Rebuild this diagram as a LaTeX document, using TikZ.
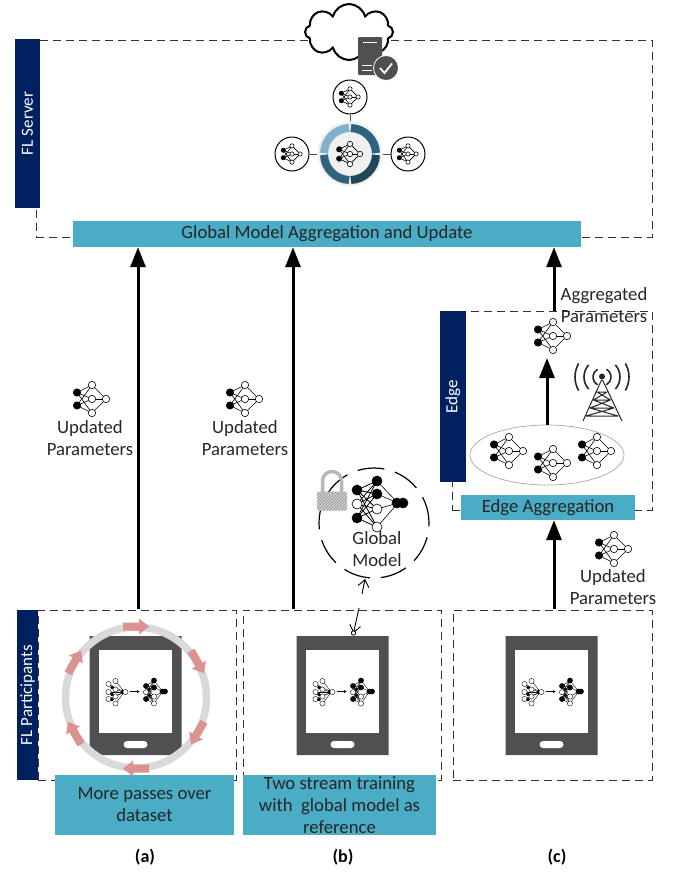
\documentclass[tikz,border=0pt]{standalone}
\usepackage{fontspec}
\setmainfont{Carlito}
\usetikzlibrary{arrows.meta,shapes.geometric,shapes.misc,shapes.symbols,patterns,calc}

\definecolor{navybar}{HTML}{002060}
\definecolor{tealbar}{HTML}{4BACC6}
\definecolor{phonegray}{HTML}{505050}
\definecolor{ringgray}{HTML}{D9D9D9}
\definecolor{flowpink}{HTML}{DC9290}

\tikzset{
  txt/.style={font=\fontsize{18.7}{22}\selectfont, align=center, text=black!85},
  navy/.style={fill=navybar, text=white, rotate=90, font=\fontsize{17}{20}\selectfont, inner sep=0pt},
  teal/.style={fill=tealbar, txt, inner sep=0pt},
  dashbox/.style={draw=black!80, line width=1pt, dash pattern=on 8pt off 5pt, inner sep=0pt},
  bigarrow/.style={line width=3pt, -{Triangle[length=20pt,width=15pt]}},
  neuron/.style={draw=black, line width=0.6pt},
  capt/.style={font=\fontsize{18}{20}\selectfont\bfseries, inner sep=0pt},
  % icon of a small network
  pics/nnet/.style={code={
    \foreach \a/\b in {-15/-6.5,-15/6.5} {
      \foreach \c in {-14,0,14} {\draw[line width=0.6pt] (\a,\b) -- (0,\c);}
    }
    \foreach \c in {-14,0,14} {\draw[line width=0.6pt] (0,\c) -- (14,0);}
    \foreach \a/\b/\f in {-15/-6.5/black,-15/6.5/black,0/-14/white,0/0/white,0/14/white,14/0/white} {
      \fill[\f, neuron] (\a,\b) circle[radius=3.7];
    }
  }},
  % phone with its two small networks
  pics/phone/.style={code={
    \node[chamfered rectangle, chamfered rectangle xsep=14pt, chamfered rectangle ysep=14pt, fill=phonegray,
      minimum width=92pt, minimum height=119pt, inner sep=0pt] (-body) at (0,0) {};
    \node[fill=white, minimum width=73pt, minimum height=83pt, inner sep=0pt] (-screen) at (0,-4.5) {};
    \node[fill=white, rounded corners=3.5pt, minimum width=24pt, minimum height=7pt, inner sep=0pt] (-button) at (0,49) {};
    % plain network
    \foreach \a/\b in {-27/-11.5,-27/-3.5,-27/3.5,-20/-14.5,-20/-6,-20/1,-20/8} {\draw[line width=0.4pt] (\a,\b) -- (-11,-3.5);}
    \foreach \a/\b/\f/\r in {-27/-11.5/white/2.6,-27/-3.5/white/2.6,-27/3.5/white/2.6,
        -20/-14.5/white/2.6,-20/-6/white/2.6,-20/1/white/2.6,-20/8/white/2.6,
        -23.5/-8/black/1.5,-23.5/-1/black/1.5,-23.5/4/black/1.5,-13/-3.5/black/1.8,-10/-3.5/white/2.6} {
      \fill[\f, draw=black, line width=0.4pt] (\a,\b) circle[radius=\r];
    }
    % trained network
    \foreach \a/\b in {18.5/-15,18.5/-8,18.5/1,18.5/8} {
      \draw[line width=0.4pt] (\a,\b) -- (27,-4);
      \foreach \c in {-9.5,-3.3,3.5} {\draw[line width=0.4pt] (\a,\b) -- (10.5,\c);}
    }
    \foreach \a/\b/\f/\r in {10.5/-9.5/black/2.6,10.5/-3.3/white/2.6,10.5/3.5/black/2.6,
        18.5/-15/black/2.6,18.5/-8/black/2.6,18.5/1/white/2.6,18.5/8/white/2.6,
        14/-6/black/1.5,14/0/black/1.5,27/-4/black/2.6,29.5/-4/black/2.6} {
      \fill[\f, draw=black, line width=0.4pt] (\a,\b) circle[radius=\r];
    }
    \coordinate (-from) at (-5.5,-4);
    \coordinate (-to) at (4.5,-4);
    \draw[line width=0.7pt, -{Latex[length=3pt,width=3pt]}] (-from) -- (-to);
  }},
  % one pink arrow on the ring
  pics/flowarrow/.style={code={
    \fill[flowpink] (-13,-4) -- (3,-4) -- (3,-8) -- (13,0) -- (3,8) -- (3,4) -- (-13,4) -- cycle;
  }}
}

\begin{document}
\begin{tikzpicture}[x=1pt,y=-1pt]
  \useasboundingbox (0,0) rectangle (675,873);

  % Dashed frames
  \node[dashbox, minimum width=616pt, minimum height=197pt] (serverbox) at (344,138.5) {};
  \node[dashbox, minimum width=200pt, minimum height=199pt] (edgebox) at (552,410.5) {};
  \node[dashbox, minimum width=198pt, minimum height=170pt] (panelA) at (137,695) {};
  \node[dashbox, minimum width=198pt, minimum height=170pt] (panelB) at (342,695) {};
  \node[dashbox, minimum width=199pt, minimum height=170pt] (panelC) at (552.5,695) {};

  % Cloud and server
  \node[cloud, cloud puffs=8, draw=black, line width=2pt, fill=white, minimum width=88pt, minimum height=56pt] (cloud) at (349,32) {};
  \node[fill=phonegray, rounded corners=1pt, minimum width=24pt, minimum height=38pt, inner sep=0pt] (server) at (370,56) {};
  \draw[white, line width=0.8pt] (363,42) -- (377,42);
  \draw[white, line width=0.8pt] (362,65) -- (372,65);
  \draw[white, line width=0.8pt] (362,70) -- (372,70);
  \node[circle, fill=phonegray, draw=white, line width=0.8pt, minimum size=25pt, inner sep=0pt] (okmark) at (386,68) {};
  \draw[white, line width=1.8pt] (380,68) -- (384.5,73) -- (392,63.5);

  % Aggregation hub
  \node[circle, fill=black!6, minimum size=65pt, inner sep=0pt] (hub) at (350,154) {};
  \node[circle, draw=black, line width=1pt, fill=white, minimum size=34pt, inner sep=0pt] (satTop) at (350,97) {};
  \node[circle, draw=black, line width=1pt, fill=white, minimum size=34pt, inner sep=0pt] (satLeft) at (292,154) {};
  \node[circle, draw=black, line width=1pt, fill=white, minimum size=34pt, inner sep=0pt] (satRight) at (408,154) {};
  \foreach \s in {satTop,satLeft,satRight} {
    \draw[black!70, line width=1pt] (hub) -- (\s);
  }
  \fill[black!6] (hub) circle[radius=32];
  \foreach \st/\en/\c in {182/268/7FB2C9,272/358/2E6480,2/88/22465A,92/178/2E6480} {
    \definecolor{segcol}{HTML}{\c}
    \draw[segcol, line width=8pt] ($(hub)+(\st:26)$) arc[start angle=\st, end angle=\en, radius=26];
  }
  \pic[scale=0.72] at (350,154) {nnet};
  \pic[scale=0.58] at (350,97) {nnet};
  \pic[scale=0.58] at (292,154) {nnet};
  \pic[scale=0.58] at (408,154) {nnet};

  % Navy bars
  \node[navy, minimum width=169pt, minimum height=25pt] (serverbar) at (27.5,123.5) {FL Server};
  \node[navy, minimum width=171pt, minimum height=26pt] (edgebar) at (453,396.5) {Edge};
  \node[navy, minimum width=170pt, minimum height=21pt] (partbar) at (27.5,695) {FL Participants};

  % Teal bars
  \node[teal, minimum width=508pt, minimum height=26pt] (globalbar) at (327,234) {Global Model Aggregation and Update};
  \node[teal, minimum width=174pt, minimum height=25pt] (edgeagg) at (548,507.5) {Edge Aggregation};
  \node[teal, minimum width=179pt, minimum height=60pt] (passes) at (144.5,805) {More passes over\\dataset};
  \node[teal, minimum width=193pt, minimum height=60pt] (twostream) at (339.5,805) {Two stream training\\with\ \ global model as\\reference};

  % Phones
  \pic (phoneA) at (135.5,695.5) {phone};
  \pic (phoneB) at (342.5,695.5) {phone};
  \pic (phoneC) at (551.5,695.5) {phone};

  % Ring of passes
  \draw[ringgray, line width=7.5pt] (136,697.5) circle[radius=70.5];
  \foreach \t/\r in {90/0,30/-60,-30/-120,-90/180,210/120,150/60} {
    \pic[rotate=\r] at ({136+71*cos(\t)},{697.5-71*sin(\t)}) {flowarrow};
  }

  % Upward arrows
  \coordinate (outA) at (138,609);
  \coordinate (outB) at (293,609);
  \coordinate (outC) at (554,609);
  \coordinate (aggOut) at (554,311);
  \draw[bigarrow] (outA) -- (outA |- globalbar.south);
  \draw[bigarrow] (outB) -- (outB |- globalbar.south);
  \draw[bigarrow] (aggOut) -- (aggOut |- globalbar.south);
  \draw[bigarrow] (outC) -- (outC |- edgeagg.south);

  % Edge contents
  \node[ellipse, draw=black!35, line width=0.7pt, minimum width=154pt, minimum height=60pt, inner sep=0pt] (edgeset) at (547,455) {};
  \coordinate (edgetop) at (547,358);
  \draw[bigarrow] (edgeset.north) -- (edgetop);
  \pic at (553,336) {nnet};
  \pic at (509,451) {nnet};
  \pic at (553,463) {nnet};
  \pic at (597,451) {nnet};

  % Tower
  \draw[black!85, line width=1pt] (601.5,380) -- (583,421) (602.5,380) -- (622,421)
    (597,392) -- (607,392) (593.5,400) -- (610.5,400) (590,408) -- (614,408) (586,416) -- (618,416)
    (597,392) -- (610.5,400) (607,392) -- (593.5,400) (593.5,400) -- (614,408) (610.5,400) -- (590,408)
    (590,408) -- (618,416) (614,408) -- (586,416);
  \fill[black!85] (602,376.5) circle[radius=3];
  \foreach \r/\w in {9/60,18/42,27/30} {
    \draw[black!85, line width=1.6pt] ($(602,377)+(-\w:\r)$) arc[start angle=-\w, end angle=\w, radius=\r];
    \draw[black!85, line width=1.6pt] ($(602,377)+(180-\w:\r)$) arc[start angle=180-\w, end angle=180+\w, radius=\r];
  }

  % Labels
  \pic at (92,399) {nnet};
  \pic at (245,399) {nnet};
  \pic at (614,549) {nnet};
  \node[txt, inner sep=0pt] (updA) at (90,438.5) {Updated\\Parameters};
  \node[txt, inner sep=0pt] (updB) at (245,438.5) {Updated\\Parameters};
  \node[txt, inner sep=0pt] (updC) at (613,587) {Updated\\Parameters};
  \node[txt, inner sep=0pt] (aggr) at (604,305) {Aggregated\\Parameters};

  % Global model
  \node[circle, draw=black, line width=1.2pt, dash pattern=on 27pt off 11pt, minimum size=110pt, inner sep=0pt] (globalring) at (374,523) {};
  \node[preaction={fill=black!18}, pattern=north east lines, pattern color=black!45, rounded corners=1.5pt, minimum width=30pt, minimum height=19pt, inner sep=0pt] (lockbody) at (332,501) {};
  \draw[black!28, line width=3.5pt] (322.5,492) -- (322.5,481) arc[start angle=180, end angle=360, radius=9.5] -- (341.5,492);
  \foreach \a/\b in {357/490,357/504,357/518} {
    \foreach \c in {481,494,509,527} {\draw[line width=0.8pt] (\a,\b) -- (377,\c);}
  }
  \foreach \c in {481,494,509,527} {\draw[line width=0.6pt] (377,\c) -- (398,503);}
  \foreach \a/\b/\f in {357/490/black,357/504/white,357/518/black,377/481/black,377/494/black,377/509/white,377/527/white,397/503/black,403/503/black} {
    \fill[\f, neuron] (\a,\b) circle[radius=5];
  }
  \node[txt, inner sep=0pt] (globaltxt) at (377,549.5) {Global\\Model};

  % Exchange with the phone
  \coordinate (toring) at (362,594);
  \coordinate (ringfoot) at (365,579);
  \coordinate (fromring) at (359,608);
  \coordinate (phonetop) at (353.5,633);
  \draw[line width=0.9pt, -{Straight Barb[length=7pt,width=11pt]}] (toring) -- (ringfoot);
  \draw[line width=0.9pt, -{Straight Barb[length=7pt,width=11pt]}] (fromring) -- (phonetop);
  \fill[white, draw=black, line width=0.8pt] (phonetop) circle[radius=2.2];

  % Captions
  \node[capt] (capA) at (145,857) {(a)};
  \node[capt] (capB) at (343,857) {(b)};
  \node[capt] (capC) at (557,857) {(c)};
\end{tikzpicture}
\end{document}
